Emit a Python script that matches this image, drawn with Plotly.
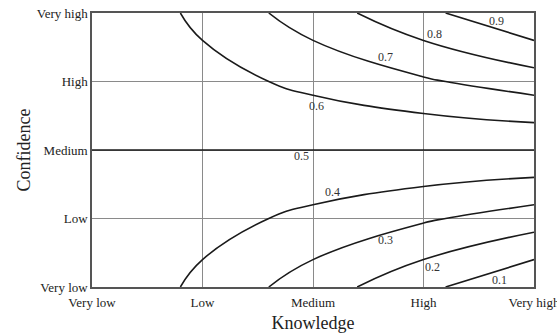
import plotly.graph_objects as go

levels = ["Very low", "Low", "Medium", "High", "Very high"]
knowledge = [0.0, 0.25, 0.5, 0.75, 1.0]
confidence = [0.0, 0.25, 0.5, 0.75, 1.0]
# rows = confidence (Very low .. Very high), columns = knowledge (Very low .. Very high)
z = [
    [0.5, 0.375, 0.25, 0.125, 0.0],
    [0.5, 0.4375, 0.375, 0.3125, 0.25],
    [0.5, 0.5, 0.5, 0.5, 0.5],
    [0.5, 0.5625, 0.625, 0.6875, 0.75],
    [0.5, 0.625, 0.75, 0.875, 1.0],
]
label_text = ["0.9", "0.8", "0.7", "0.6", "0.5", "0.4", "0.3", "0.2", "0.1"]
label_k = [0.916, 0.776, 0.663, 0.507, 0.475, 0.543, 0.663, 0.771, 0.923]
label_c = [0.97, 0.923, 0.84, 0.66, 0.478, 0.347, 0.171, 0.073, 0.026]

serif = "Liberation Serif, Times New Roman, serif"
line_style = dict(color="#1a1a1a", width=1.6, smoothing=1.3)

fig = go.Figure()
# lower family of contours (0.1 .. 0.4)
fig.add_trace(go.Contour(
    x=knowledge, y=confidence, z=z,
    contours=dict(start=0.1, end=0.4, size=0.1, coloring="none", showlabels=False),
    line=line_style, showscale=False, hoverinfo="skip",
))
# upper family of contours (0.6 .. 0.9)
fig.add_trace(go.Contour(
    x=knowledge, y=confidence, z=z,
    contours=dict(start=0.6, end=0.9, size=0.1, coloring="none", showlabels=False),
    line=line_style, showscale=False, hoverinfo="skip",
))
# the 0.5 contour is the Medium-confidence row, where every z equals 0.5
mid_row = z.index([0.5] * len(knowledge))
fig.add_trace(go.Scatter(
    x=knowledge, y=[confidence[mid_row]] * len(knowledge), mode="lines",
    line=dict(color="#1a1a1a", width=1.6), hoverinfo="skip",
))

for t, k, c in zip(label_text, label_k, label_c):
    fig.add_annotation(x=k, y=c, text=t, showarrow=False,
                       font=dict(family=serif, size=12, color="#333"))

axis_common = dict(
    tickvals=knowledge, ticktext=levels, range=[0, 1], automargin=False,
    showgrid=True, gridcolor="#8a8a8a", gridwidth=1,
    showline=True, linecolor="#555", linewidth=1.5, mirror=True,
    zeroline=False, ticks="", ticklabeloverflow="allow",
    tickfont=dict(family=serif, size=13, color="#222"),
)
fig.update_xaxes(**axis_common, ticklabelstandoff=3,
                 title=dict(text="Knowledge", font=dict(family=serif, size=18, color="#222"), standoff=8))
fig.update_yaxes(**axis_common,
                 title=dict(text="Confidence", font=dict(family=serif, size=18, color="#222"), standoff=1))

fig.update_layout(
    width=557, height=333,
    margin=dict(l=92, r=23, t=13, b=46, autoexpand=False),
    paper_bgcolor="white", plot_bgcolor="white",
    showlegend=False,
)
fig.write_html("out.html", config={"responsive": False, "displayModeBar": False})

with open("out.html", "r", encoding="utf-8") as f:
    html = f.read()
html = html.replace("<body>", '<body style="margin:0;overflow:hidden">', 1)
with open("out.html", "w", encoding="utf-8") as f:
    f.write(html)
